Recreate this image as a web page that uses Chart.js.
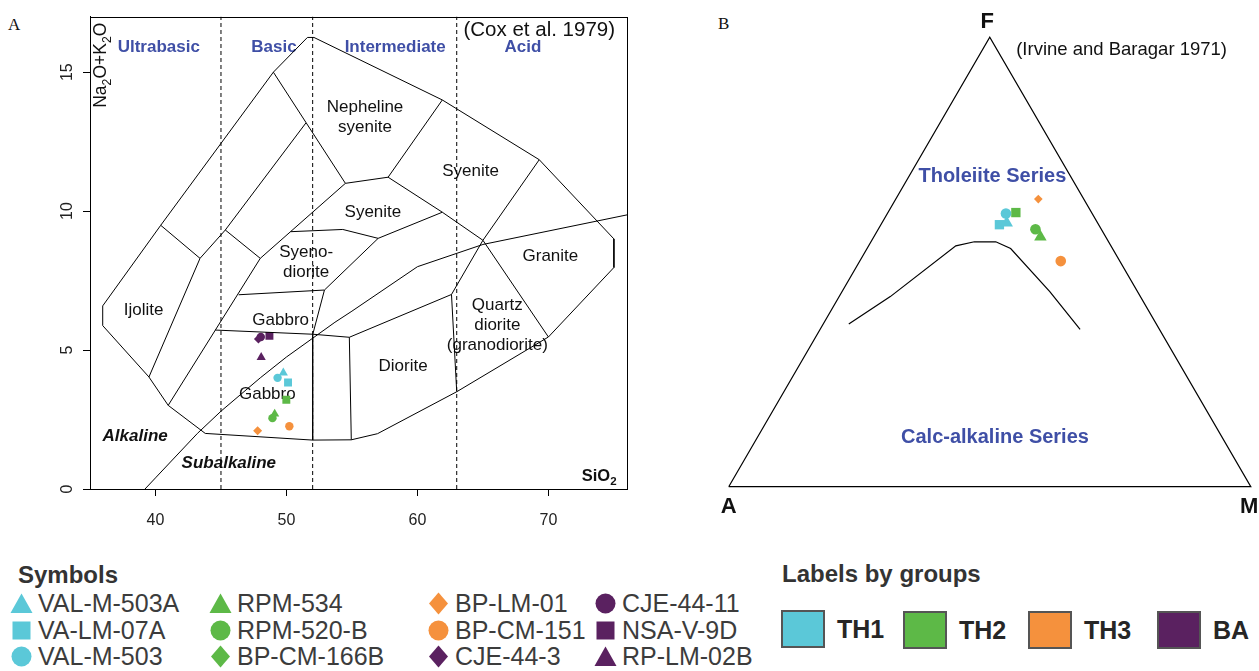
<!DOCTYPE html>
<html>
<head>
<meta charset="utf-8">
<title>TAS and AFM classification</title>
<script src="https://cdn.jsdelivr.net/npm/chart.js@4.4.1/dist/chart.umd.min.js"></script>
<style>
  body { margin: 0; width: 1259px; height: 671px; position: relative; overflow: hidden; background: #fff;
         font-family: "Liberation Sans", Arial, sans-serif; }
  canvas { position: absolute; }
  #tas { left: 0; top: 0; }
  #afm { left: 700px; top: 0; }
  .panel { position: absolute; font-family: "Liberation Serif", "Times New Roman", serif; font-size: 17px; line-height: 17px; color: #111; }
  .legend-title { position: absolute; font-weight: bold; font-size: 24px; line-height: 28px; color: #333; white-space: nowrap; }
  .item { position: absolute; height: 28px; display: flex; align-items: center; font-size: 25px; color: #3c3c3c; white-space: nowrap; }
  .item svg { width: 25px; height: 23px; margin-right: 4px; flex: none; }
  .group { position: absolute; height: 40px; display: flex; align-items: center; font-weight: bold; font-size: 25px; color: #262626; }
  .group .box { width: 44px; height: 38px; border: 2px solid #555; box-sizing: border-box; margin-right: 12px; }
</style>
</head>
<body>
<div class="panel" style="left:8px;top:16px">A</div>
<div class="panel" style="left:718px;top:15px">B</div>
<canvas id="tas" width="680" height="545"></canvas>
<canvas id="afm" width="559" height="520"></canvas>
<div id="legend"></div>
<script>
// ---- samples -------------------------------------------------------------
const samples = ['VAL-M-503A', 'VA-LM-07A', 'VAL-M-503', 'RPM-534', 'RPM-520-B', 'BP-CM-166B',
                 'BP-LM-01', 'BP-CM-151', 'CJE-44-3', 'CJE-44-11', 'NSA-V-9D', 'RP-LM-02B'];
const sampleGroup = ['TH1', 'TH1', 'TH1', 'TH2', 'TH2', 'TH2', 'TH3', 'TH3', 'BA', 'BA', 'BA', 'BA'];

// TAS: SiO2 and Na2O+K2O (wt%)
const tasSiO2   = [49.76, 50.12, 49.32, 49.10, 48.93, 49.99, 47.80, 50.22, 47.86, 48.04, 48.70, 48.07];
const tasAlkali = [4.18, 3.83, 4.00, 2.70, 2.55, 3.21, 2.10, 2.26, 5.40, 5.47, 5.51, 4.74];

// AFM (%), basaltic-andesite samples are not plotted
const afmF = [58.7, 58.3, 60.8, 55.6, 57.3, 61.0, 64.0, 50.2, null, null, null, null];
const afmA = [17.4, 19.0, 16.5, 12.5, 12.6, 14.5, 8.7, 11.3, null, null, null, null];
const afmM = [23.9, 22.7, 22.7, 31.9, 30.1, 24.5, 27.3, 38.5, null, null, null, null];

// ---- TAS plutonic grid (Cox et al. 1979) ----------------------------------
const xTicks = [40, 50, 60, 70];
const yTicks = [0, 5, 10, 15];
const silicaClassLimits = [45, 52, 63];
const outerBoundary = [[51.6, 16.25], [52.1, 16.25], [61.9, 14.0], [69.3, 11.85], [75.0, 9.0], [75.0, 7.97],
  [70.0, 5.47], [63.0, 3.5], [56.95, 1.99], [54.95, 1.77], [52.0, 1.76], [43.8, 2.0], [40.97, 3.01],
  [39.5, 4.03], [35.97, 5.88], [35.97, 6.59], [40.4, 9.49], [49.0, 15.0], [51.6, 16.25]];
const ijoliteLine = [[40.4, 9.49], [43.4, 8.3], [39.5, 4.03]];
const upperLeftLine = [[43.4, 8.3], [45.33, 9.32], [51.48, 13.17]];
const gabbroLeftLine = [[45.33, 9.32], [48.0, 8.3], [40.97, 3.01]];
const syeniteLeftLine = [[48.0, 8.3], [54.5, 11.0]];
const nephSyeniteBase = [[49.0, 15.0], [54.5, 11.0], [57.76, 11.22], [61.9, 14.0]];
const syeniteBase = [[50.33, 9.26], [54.3, 9.34], [57.0, 9.02], [61.9, 9.96]];
const syeniteRightLine = [[57.76, 11.22], [61.9, 9.96], [65.0, 8.95], [70.0, 5.47]];
const quartzDioriteLine = [[69.3, 11.85], [65.0, 8.95], [62.6, 7.0], [63.0, 3.5]];
const syenodioriteRight = [[57.0, 9.02], [52.9, 7.16], [52.0, 5.55], [52.0, 1.76]];
const gabbroTop = [[46.35, 6.99], [52.9, 7.16]];
const gabbroBase = [[44.56, 5.72], [52.0, 5.57], [54.8, 5.46], [62.6, 7.0]];
const dioriteLeft = [[54.8, 5.46], [54.95, 1.77]];
// alkaline / subalkaline divide (Irvine and Baragar 1971)
const divideSiO2 = [39.2, 40, 43.2, 45, 48, 50, 53.7, 55, 60, 65, 77.4];
const divideAlkali = [0, 0.4, 2, 2.8, 4, 4.75, 6, 6.4, 8, 8.8, 10];

const fieldNames = ['Nepheline\nsyenite', 'Syenite', 'Syenite', 'Syeno-\ndiorite', 'Ijolite', 'Gabbro',
                    'Gabbro', 'Diorite', 'Granite', 'Quartz\ndiorite\n(granodiorite)'];
const fieldSiO2 = [56.0, 64.05, 56.6, 51.5, 39.1, 49.56, 48.54, 58.9, 70.15, 66.1];
const fieldAlkali = [13.36, 11.43, 9.96, 8.17, 6.44, 6.08, 3.39, 4.41, 8.39, 5.88];
const classNames = ['Ultrabasic', 'Basic', 'Intermediate', 'Acid'];
const classSiO2 = [40.25, 49.05, 58.3, 68.06];

// ---- AFM (Irvine and Baragar 1971) ---------------------------------------
const frameF = [0, 0, 100, 0];
const frameA = [100, 0, 0, 100];
const frameM = [0, 100, 0, 0];
const curveF = [36.2, 42.3, 53.6, 54.5, 54.5, 53.0, 43.4, 35.0];
const curveA = [58.9, 47.9, 29.7, 25.7, 21.6, 19.5, 16.8, 15.2];
const curveM = [4.9, 9.8, 16.7, 19.8, 23.9, 27.5, 39.8, 49.8];

// ---- styling --------------------------------------------------------------
const groupColor = { TH1: '#5bc8d8', TH2: '#5db947', TH3: '#f5913d', BA: '#5a2160' };
const legendShape = ['triangle', 'rect', 'circle', 'triangle', 'circle', 'rectRot',
                     'rectRot', 'circle', 'rectRot', 'circle', 'rect', 'triangle'];
const plotShape = ['triangle', 'rect', 'circle', 'triangle', 'circle', 'rect',
                   'rectRot', 'circle', 'rectRot', 'circle', 'rect', 'triangle'];
const tasRadius = { triangle: 5.3, rect: 5.6, circle: 4.2, rectRot: 4.5 };
const afmRadius = { triangle: 7.2, rect: 6.6, circle: 5.3, rectRot: 4.3 };
const FONT = '"Liberation Sans", Arial, sans-serif';
const SERIES_BLUE = '#3f4fa6';

Chart.defaults.font.family = FONT;
Chart.defaults.color = '#111';

const toPts = arr => arr.map(([x, y]) => ({ x, y }));
const lineSet = (pts, extra) => Object.assign({
  data: pts, showLine: true, pointRadius: 0, borderColor: '#000', borderWidth: 1, fill: false
}, extra || {});

// ---- chart A --------------------------------------------------------------
function drawSub(ctx, parts, size) {
  // parts: [text, isSubscript]; draws centred on (0,0) baseline
  const big = `${size}px ${FONT}`, small = `${size * 0.7}px ${FONT}`;
  let total = 0;
  parts.forEach(([t, sub]) => { ctx.font = sub ? small : big; total += ctx.measureText(t).width; });
  let cx = -total / 2;
  ctx.textAlign = 'left'; ctx.textBaseline = 'alphabetic';
  parts.forEach(([t, sub]) => {
    ctx.font = sub ? small : big;
    ctx.fillText(t, cx, sub ? size * 0.28 : 0);
    cx += ctx.measureText(t).width;
  });
  return total;
}

const tasDecor = {
  id: 'tasDecor',
  beforeDatasetsDraw(chart) {
    const { ctx, scales: { x, y } } = chart;
    ctx.save();
    ctx.fillStyle = '#111';
    ctx.textAlign = 'center'; ctx.textBaseline = 'middle';
    ctx.font = `17px ${FONT}`;
    fieldNames.forEach((name, i) => {
      const lines = name.split('\n');
      const px = x.getPixelForValue(fieldSiO2[i]), py = y.getPixelForValue(fieldAlkali[i]);
      lines.forEach((ln, j) => ctx.fillText(ln, px, py + (j - (lines.length - 1) / 2) * 20));
    });
    ctx.fillStyle = SERIES_BLUE;
    ctx.font = `bold 17px ${FONT}`;
    classNames.forEach((n, i) => ctx.fillText(n, x.getPixelForValue(classSiO2[i]), y.getPixelForValue(15.9)));
    ctx.fillStyle = '#111';
    ctx.font = `italic bold 17px ${FONT}`;
    ctx.fillText('Alkaline', x.getPixelForValue(38.45), y.getPixelForValue(1.91));
    ctx.fillText('Subalkaline', x.getPixelForValue(45.6), y.getPixelForValue(0.92));
    ctx.font = `20.5px ${FONT}`;
    ctx.fillText('(Cox et al. 1979)', x.getPixelForValue(69.3), y.getPixelForValue(16.5));
    ctx.restore();
  },
  afterDraw(chart) {
    const { ctx, chartArea: a, scales: { x, y } } = chart;
    ctx.save();
    ctx.strokeStyle = '#000'; ctx.lineWidth = 1;
    ctx.strokeRect(Math.round(a.left) + 0.5, Math.round(a.top) + 0.5, Math.round(a.width), Math.round(a.height));
    ctx.fillStyle = '#111';
    // axis titles inside the box, R style
    ctx.translate(a.left + 16, y.getPixelForValue(15.25));
    ctx.rotate(-Math.PI / 2);
    drawSub(ctx, [['Na', 0], ['2', 1], ['O+K', 0], ['2', 1], ['O', 0]], 17.5);
    ctx.setTransform(1, 0, 0, 1, 0, 0);
    ctx.font = `bold 11.5px ${FONT}`;
    const w2 = ctx.measureText('2').width;
    ctx.font = `bold 16.5px ${FONT}`;
    const rx = x.getPixelForValue(75.2);
    ctx.textAlign = 'right'; ctx.textBaseline = 'alphabetic';
    ctx.fillText('SiO', rx - w2, 481);
    ctx.font = `bold 11.5px ${FONT}`;
    ctx.fillText('2', rx, 485);
    ctx.restore();
  }
};

const tasSets = [
  lineSet(toPts(outerBoundary)), lineSet(toPts(ijoliteLine)), lineSet(toPts(upperLeftLine)),
  lineSet(toPts(gabbroLeftLine)), lineSet(toPts(syeniteLeftLine)), lineSet(toPts(nephSyeniteBase)),
  lineSet(toPts(syeniteBase)), lineSet(toPts(syeniteRightLine)), lineSet(toPts(quartzDioriteLine)),
  lineSet(toPts(syenodioriteRight)), lineSet(toPts(gabbroTop)), lineSet(toPts(gabbroBase)),
  lineSet(toPts(dioriteLeft)),
  lineSet(divideSiO2.map((v, i) => ({ x: v, y: divideAlkali[i] })))
];
silicaClassLimits.forEach(v => tasSets.push(lineSet([{ x: v, y: 0 }, { x: v, y: 17 }], { borderDash: [4, 3] })));
samples.forEach((name, i) => tasSets.push({
  label: name, data: [{ x: tasSiO2[i], y: tasAlkali[i] }], pointStyle: plotShape[i],
  pointRadius: tasRadius[plotShape[i]], pointBackgroundColor: groupColor[sampleGroup[i]], pointBorderWidth: 0
}));

const axisCommon = {
  grid: { drawOnChartArea: false, drawTicks: true, tickLength: 7, color: '#000' },
  border: { display: true, color: '#000', width: 1 }
};

new Chart(document.getElementById('tas'), {
  type: 'scatter',
  data: { datasets: tasSets },
  options: {
    responsive: false, animation: false, events: [],
    layout: { autoPadding: false, padding: { top: 13, right: 53, left: 0, bottom: 0 } },
    plugins: { legend: { display: false }, tooltip: { enabled: false } },
    scales: {
      x: Object.assign({
        type: 'linear', min: 35, max: 76,
        afterBuildTicks: s => { s.ticks = xTicks.map(v => ({ value: v })); },
        afterFit: s => { s.height = 56; },
        ticks: { font: { size: 16 }, color: '#222', padding: 15, maxRotation: 0 }
      }, axisCommon),
      y: Object.assign({
        type: 'linear', min: 0, max: 17,
        afterBuildTicks: s => { s.ticks = yTicks.map(v => ({ value: v })); },
        afterFit: s => { s.width = 90; },
        ticks: { font: { size: 16 }, color: '#222', padding: 7, minRotation: 90, maxRotation: 90, crossAlign: 'center' }
      }, axisCommon)
    }
  },
  plugins: [tasDecor]
});

// ---- chart B (ternary AFM drawn on a cartesian plane) ---------------------
const ternary = (f, a, m) => { const s = f + a + m; return { x: (m + f / 2) / s, y: f / s }; };

const afmDecor = {
  id: 'afmDecor',
  afterDatasetsDraw(chart) {
    const { ctx, scales: { x, y } } = chart;
    const put = (t, tx, ty) => ctx.fillText(t, x.getPixelForValue(tx), y.getPixelForValue(ty));
    ctx.save();
    ctx.textAlign = 'center'; ctx.textBaseline = 'middle';
    ctx.fillStyle = '#111';
    ctx.font = `bold 22px ${FONT}`;
    put('F', 0.495, 1.035);
    put('A', 0.0, -0.045);
    put('M', 0.997, -0.045);
    ctx.font = `18.5px ${FONT}`;
    put('(Irvine and Baragar 1971)', 0.7525, 0.973);
    ctx.fillStyle = SERIES_BLUE;
    ctx.font = `bold 20px ${FONT}`;
    put('Tholeiite Series', 0.505, 0.69);
    put('Calc-alkaline Series', 0.51, 0.109);
    ctx.restore();
  }
};

const afmSets = [
  lineSet(frameF.map((f, i) => ternary(f, frameA[i], frameM[i])), { borderWidth: 1.2 }),
  lineSet(curveF.map((f, i) => ternary(f, curveA[i], curveM[i])), { borderWidth: 1.2 })
];
samples.forEach((name, i) => {
  if (afmF[i] == null) return;
  afmSets.push({
    label: name, data: [ternary(afmF[i], afmA[i], afmM[i])], pointStyle: plotShape[i],
    pointRadius: afmRadius[plotShape[i]], pointBackgroundColor: groupColor[sampleGroup[i]], pointBorderWidth: 0
  });
});

new Chart(document.getElementById('afm'), {
  type: 'scatter',
  data: { datasets: afmSets },
  options: {
    responsive: false, animation: false, events: [],
    layout: { autoPadding: false, padding: 0 },
    plugins: { legend: { display: false }, tooltip: { enabled: false } },
    scales: {
      x: { type: 'linear', display: false, min: -0.055, max: 1.0157 },
      y: { type: 'linear', display: false, min: -0.0741, max: 1.083 }
    }
  },
  plugins: [afmDecor]
});

// ---- legends (HTML) -------------------------------------------------------
const svgShape = (shape, color) => {
  const body = {
    triangle: `<polygon points="12,1.5 23,21 1,21"/>`,
    rect: `<rect x="3" y="2.5" width="18" height="18"/>`,
    circle: `<circle cx="12" cy="11.5" r="10"/>`,
    rectRot: `<polygon points="12,0.5 21.5,11.5 12,22.5 2.5,11.5"/>`
  }[shape];
  return `<svg viewBox="0 0 24 23" fill="${color}">${body}</svg>`;
};
const legend = document.getElementById('legend');
let html = `<div class="legend-title" style="left:18px;top:561px">Symbols</div>`;
const colLeft = [9, 208, 426, 593];
const rowMid = [603, 630, 656];
samples.forEach((name, i) => {
  const col = Math.floor(i / 3), row = i % 3;
  html += `<div class="item" style="left:${colLeft[col]}px;top:${rowMid[row] - 14}px">` +
          `${svgShape(legendShape[i], groupColor[sampleGroup[i]])}${name}</div>`;
});
html += `<div class="legend-title" style="left:782px;top:560px">Labels by groups</div>`;
const groupNames = ['TH1', 'TH2', 'TH3', 'BA'];
const groupLeft = [781, 903, 1028, 1157];
groupNames.forEach((g, i) => {
  html += `<div class="group" style="left:${groupLeft[i]}px;top:${609 + (i ? 1 : 0)}px">` +
          `<span class="box" style="background:${groupColor[g]}"></span>${g}</div>`;
});
legend.innerHTML = html;
</script>
</body>
</html>
